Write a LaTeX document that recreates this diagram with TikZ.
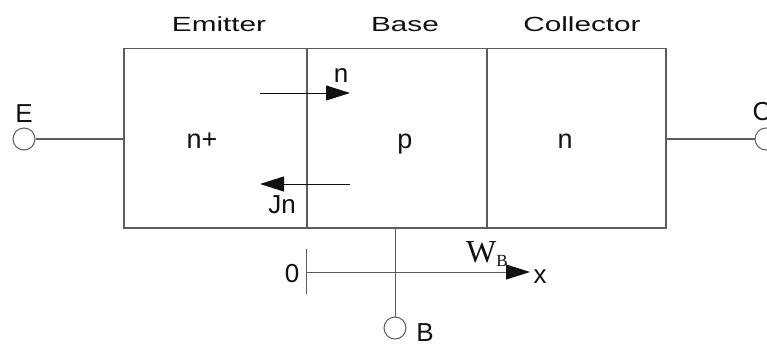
\documentclass[tikz,border=0pt]{standalone}
\usepackage{fontspec}
\setmainfont{Liberation Sans}
\newfontfamily\headfont{Liberation Sans}[FakeStretch=1.45]
\newfontfamily\timesfont{Liberation Serif}
\usetikzlibrary{arrows.meta, positioning}
\definecolor{edgegray}{HTML}{5C5C5C}
\definecolor{inkblack}{HTML}{111111}

\begin{document}
\begin{tikzpicture}[
  x=1pt, y=-1pt,
  >={Triangle[length=24pt, width=15pt, color=inkblack]},
  region/.style={draw=edgegray, line width=1.5pt, minimum width=#1,
    minimum height=179pt, inner sep=0pt, anchor=north west},
  heading/.style={font=\headfont\fontsize{20.5}{24}\selectfont, text=inkblack,
    anchor=base, inner sep=0pt},
  doping/.style={font=\fontsize{27}{30}\selectfont, text=inkblack,
    anchor=base, inner sep=0pt},
  tag/.style={font=\fontsize{26}{30}\selectfont, text=inkblack,
    anchor=base, inner sep=0pt},
  term/.style={circle, draw=edgegray, line width=1pt, minimum size=22pt,
    inner sep=0pt},
  lead/.style={draw=edgegray, line width=1.4pt},
  flow/.style={->, line width=1pt, inkblack},
]
\useasboundingbox (0,0) rectangle (767,345);
\clip (0,0) rectangle (767,345);

% Transistor regions
\node[region=183pt] (emitter) at (123,48) {};
\node[region=180pt] (base) at (306,48) {};
\node[region=179pt] (collector) at (486,48) {};

\node[heading] (emitterlbl) at (219,32) {Emitter};
\node[heading] (baselbl) at (405,32) {Base};
\node[heading] (collectorlbl) at (582,32) {Collector};

\node[doping] (nplus) at (202,148) {n+};
\node[doping] (pdop) at (405,148) {p};
\node[doping] (ndop) at (565,148) {n};

% Terminals
\node[term] (E) at (24,139) {};
\node[term] (C) at (766,139) {};
\node[term] (B) at (395,328) {};
\node[tag] (Elbl) at (24,122) {E};
\node[tag] (Clbl) at (762,120) {C};
\node[tag] (Blbl) at (425,341) {B};

\draw[lead] (E.east) -- (E.east -| emitter.west);
\draw[lead] (C.west -| collector.east) -- (C.west);
\draw[lead, line width=1pt] (B.north) -- (B.north |- base.south);

% Electron flow and current
\coordinate (nstart) at (260,93);
\coordinate (nend) at (350,93);
\coordinate (jstart) at (350,184);
\coordinate (jend) at (260,184);
\draw[flow] (nstart) -- (nend);
\draw[flow] (jstart) -- (jend);
\node[tag] (nlbl) at (341,82) {n};
\node[tag] (jlbl) at (282,213) {Jn};

% Position axis
\coordinate (origin) at (306,272);
\coordinate (ticktop) at (306,249);
\coordinate (tickbot) at (306,294);
\coordinate (axisend) at (530,272);
\draw[edgegray, line width=1pt] (ticktop) -- (tickbot);
\draw[->, edgegray, line width=1pt] (origin) -- (axisend);
\node[tag] (zerolbl) at (292,282) {0};
\node[tag] (xlbl) at (540,283) {x};
\node[anchor=base west, inner sep=0pt, text=inkblack] (wblbl) at (466,262)
  {\timesfont\fontsize{32}{32}\selectfont W\raisebox{-4pt}{\fontsize{17}{17}\selectfont B}};

\end{tikzpicture}
\end{document}
